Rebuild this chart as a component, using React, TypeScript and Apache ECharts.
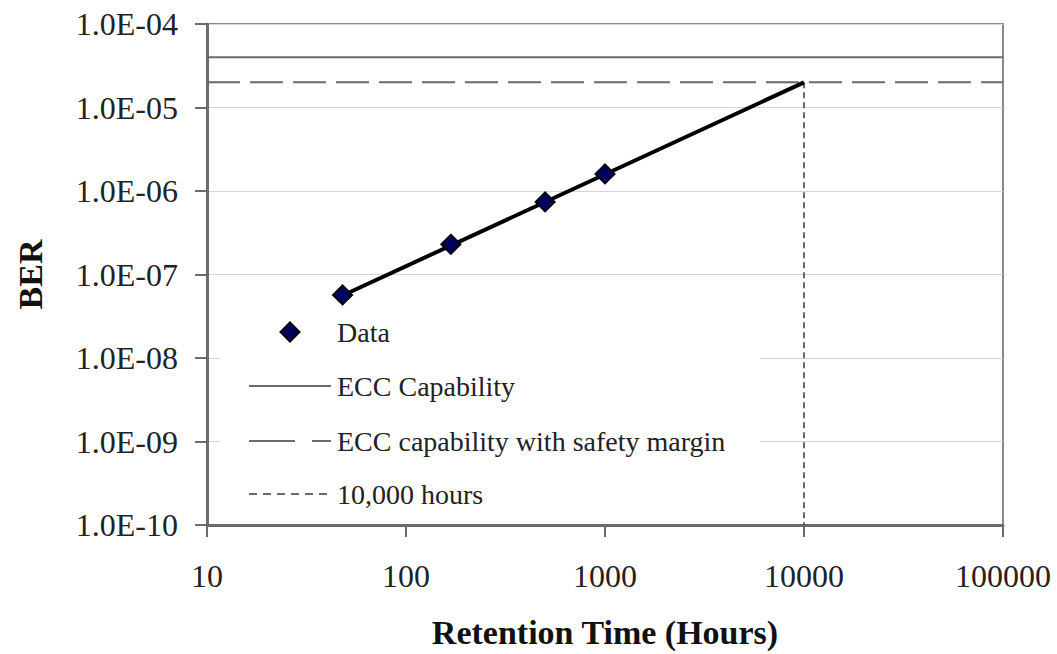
import React, { useEffect, useRef } from "react";
import * as echarts from "echarts";

// Measured bit error rate versus retention time
const dataHours = [48, 168, 500, 1000];
const dataBer = [5.7e-8, 2.3e-7, 7.4e-7, 1.6e-6];

// Power-law trend extrapolated out to 10,000 hours
const trendHours = [48, 10000];
const trendBer = [5.6e-8, 2.0e-5];

// ECC limits and the 10,000 hour marker
const eccCapability = 4e-5;
const eccSafety = 2e-5;
const limitHours = [10, 100000];
const markerHours = 10000;
const markerBer = [2e-5, 1e-10];

// Legend entries, top to bottom
const legendNames = [
  "Data",
  "ECC Capability",
  "ECC capability with safety margin",
  "10,000 hours",
];

const serif = "Liberation Serif";
const dataFill = "#000060";
const limitColor = "#6a6a6a";
const markerColor = "#3a3a3a";

function fmtExp(v: number): string {
  const e = Math.round(Math.log10(v));
  return "1.0E" + (e < 0 ? "-" : "+") + String(Math.abs(e)).padStart(2, "0");
}

// Legend box drawn as graphic elements so that icon dashes and fonts are exact
function buildLegend() {
  const left = 220;
  const top = 310;
  const iconX = 249;
  const iconW = 82;
  const textX = 337;
  const rowY = [332, 386, 441, 494];
  const cx = iconX + iconW / 2;
  const els: any[] = [
    {
      type: "rect",
      shape: { x: left, y: top, width: 540, height: 206 },
      style: { fill: "#ffffff" },
    },
    {
      type: "polygon",
      shape: {
        points: [
          [cx, rowY[0] - 9.5],
          [cx + 9.5, rowY[0]],
          [cx, rowY[0] + 9.5],
          [cx - 9.5, rowY[0]],
        ],
      },
      style: { fill: dataFill, stroke: "#000", lineWidth: 2 },
    },
    {
      type: "line",
      shape: { x1: iconX, y1: rowY[1], x2: iconX + iconW, y2: rowY[1] },
      style: { stroke: limitColor, lineWidth: 2 },
    },
    {
      type: "line",
      shape: { x1: iconX, y1: rowY[2], x2: iconX + iconW, y2: rowY[2] },
      style: { stroke: limitColor, lineWidth: 2, lineDash: [46, 17] },
    },
    {
      type: "line",
      shape: { x1: iconX, y1: rowY[3], x2: iconX + iconW, y2: rowY[3] },
      style: { stroke: markerColor, lineWidth: 1.5, lineDash: [8, 6] },
    },
  ];
  legendNames.forEach((name, i) => {
    els.push({
      type: "text",
      x: textX,
      y: rowY[i],
      style: {
        text: name,
        fontFamily: serif,
        fontSize: 28,
        fill: "#222",
        verticalAlign: "middle",
        align: "left",
      },
    });
  });
  return els.map((el, i) => ({ ...el, z: 100 + i }));
}

export default function App() {
  const ref = useRef<HTMLDivElement>(null);

  useEffect(() => {
    if (!ref.current) return;
    const chart = echarts.init(ref.current, null, { renderer: "svg" });

    const axisColor = "#6b6b6b";

    chart.setOption({
      animation: false,
      backgroundColor: "#ffffff",
      textStyle: { fontFamily: serif },
      grid: {
        left: 207,
        right: 54,
        top: 24,
        bottom: 129,
        show: true,
        borderColor: "#8a8a8a",
        borderWidth: 2,
        backgroundColor: "transparent",
      },
      graphic: buildLegend(),
      xAxis: {
        type: "log",
        logBase: 10,
        min: 10,
        max: 100000,
        interval: 1,
        name: "Retention Time (Hours)",
        nameLocation: "middle",
        nameGap: 90,
        nameTextStyle: {
          fontFamily: serif,
          fontSize: 34,
          fontWeight: "bold",
          color: "#111",
        },
        axisLine: { show: true, lineStyle: { color: axisColor, width: 3 } },
        axisTick: {
          show: true,
          inside: false,
          length: 12,
          lineStyle: { color: axisColor, width: 2 },
        },
        axisLabel: {
          margin: 35,
          fontFamily: serif,
          fontSize: 32,
          color: "#222",
          formatter: (v: number) => String(Math.round(v)),
        },
        splitLine: { show: false },
        minorTick: { show: false },
      },
      yAxis: {
        type: "log",
        logBase: 10,
        min: 1e-10,
        max: 1e-4,
        interval: 1,
        name: "BER",
        nameLocation: "middle",
        nameGap: 160,
        nameRotate: 90,
        nameTextStyle: {
          fontFamily: serif,
          fontSize: 34,
          fontWeight: "bold",
          color: "#111",
        },
        axisLine: { show: true, lineStyle: { color: axisColor, width: 3 } },
        axisTick: {
          show: true,
          inside: false,
          length: 12,
          lineStyle: { color: axisColor, width: 2 },
        },
        axisLabel: {
          margin: 29,
          fontFamily: serif,
          fontSize: 32,
          color: "#222",
          formatter: (v: number) => fmtExp(v),
        },
        splitLine: { show: true, lineStyle: { color: "#d4d4d4", width: 1 } },
        minorTick: { show: false },
      },
      series: [
        {
          name: "Trend",
          type: "line",
          symbol: "none",
          data: trendHours.map((h, i) => [h, trendBer[i]]),
          lineStyle: { color: "#000", width: 4 },
          z: 3,
        },
        {
          name: legendNames[0],
          type: "scatter",
          symbol: "diamond",
          symbolSize: 19,
          data: dataHours.map((h, i) => [h, dataBer[i]]),
          itemStyle: {
            color: dataFill,
            borderColor: "#000",
            borderWidth: 2,
            opacity: 1,
          },
          z: 4,
        },
        {
          name: legendNames[1],
          type: "line",
          symbol: "none",
          data: limitHours.map((h) => [h, eccCapability]),
          lineStyle: { color: limitColor, width: 2 },
          z: 2,
        },
        {
          name: legendNames[2],
          type: "line",
          symbol: "none",
          data: limitHours.map((h) => [h, eccSafety]),
          lineStyle: { color: limitColor, width: 2, type: [33, 10] },
          z: 2,
        },
        {
          name: legendNames[3],
          type: "line",
          symbol: "none",
          data: markerBer.map((b) => [markerHours, b]),
          lineStyle: { color: markerColor, width: 1.5, type: [6, 4] },
          z: 2,
        },
      ],
    });

    return () => chart.dispose();
  }, []);

  return (
    <div
      ref={ref}
      style={{ position: "fixed", left: 0, top: 0, width: 1057, height: 654 }}
    />
  );
}
